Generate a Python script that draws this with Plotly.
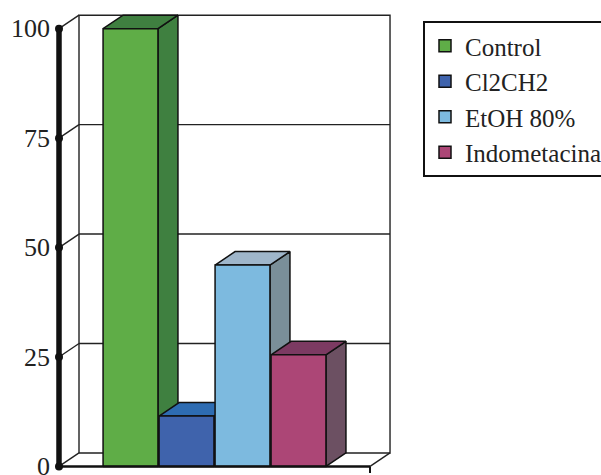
import plotly.graph_objects as go

# ---- data ----
categories = ["Control", "Cl2CH2", "EtOH 80%", "Indometacina"]
values = [100, 11.5, 46, 25.5]
tick_vals = [0, 25, 50, 75, 100]
tick_text = ["0", "25", "50", "75", "100"]

# ---- styles ----
front_colors = ["#5fad47", "#3f63ac", "#7dbadf", "#ac4676"]
top_colors = ["#3f7f40", "#2e6cb2", "#9fb6ca", "#7c3a62"]
side_colors = ["#3f8040", "#2c5a9a", "#7a8f99", "#6c5062"]

FONT = "Liberation Serif"
W, H = 601, 475
L, R, T, B = 52, 205, 9, 2
PX_PER_X = 56.0
plot_w = W - L - R
plot_h = H - T - B
X0 = -1.277                 # front axis position (x units)
XMIN = X0 - 7 / PX_PER_X
XMAX = XMIN + plot_w / PX_PER_X
Y0, Y1 = -1.5, 104.5
px_per_y = plot_h / (Y1 - Y0)
XR = 4.277                  # front floor right end
DX = 20 / PX_PER_X          # depth offset
DY = 13.5 / px_per_y
BW = 0.98                   # bar width
YMAX = tick_vals[-1]

fig = go.Figure()

def seg(xs, ys, width=1.4, color="#222"):
    fig.add_trace(go.Scatter(x=xs, y=ys, mode="lines", line=dict(color=color, width=width),
                             showlegend=False, hoverinfo="skip"))

# back wall outline
seg([X0 + DX, XR + DX, XR + DX, X0 + DX, X0 + DX],
    [DY, DY, YMAX + DY, YMAX + DY, DY])
# back wall gridlines and left wall diagonals
for v in tick_vals:
    if 0 < v < YMAX:
        seg([X0 + DX, XR + DX], [v + DY, v + DY])
    seg([X0, X0 + DX], [v, v + DY])
# floor right diagonal
seg([XR, XR + DX], [0, DY])

# bars (left to right so nearer faces occlude)
for i, (c, v) in enumerate(zip(categories, values)):
    xl = i - BW / 2
    xr = i + BW / 2
    line = dict(color="#111", width=1.5)
    fig.add_trace(go.Scatter(x=[xr, xr + DX, xr + DX, xr, xr], y=[0, DY, v + DY, v, 0],
                             mode="lines", fill="toself", fillcolor=side_colors[i], line=line,
                             showlegend=False, hoverinfo="skip"))
    fig.add_trace(go.Scatter(x=[xl, xr, xr + DX, xl + DX, xl], y=[v, v, v + DY, v + DY, v],
                             mode="lines", fill="toself", fillcolor=top_colors[i], line=line,
                             showlegend=False, hoverinfo="skip"))
    fig.add_trace(go.Scatter(x=[xl, xr, xr, xl, xl], y=[0, 0, v, v, 0],
                             mode="lines", fill="toself", fillcolor=front_colors[i], line=line,
                             showlegend=False, hoverinfo="skip", name=c))

# front floor line and end tick
seg([X0, XR], [0, 0], width=2.6, color="#111")
seg([XR, XR], [0, -2.2], width=2, color="#111")
# front value axis with dot ticks
seg([X0, X0], [-0.6, YMAX], width=5.5, color="#111")
fig.add_trace(go.Scatter(x=[X0] * len(tick_vals), y=tick_vals, mode="markers",
                         marker=dict(color="#111", size=8), showlegend=False,
                         hoverinfo="skip", cliponaxis=False))

# legend entries
for i, c in enumerate(categories):
    fig.add_trace(go.Bar(x=[None], y=[None], name=c, legendgroup=c,
                         marker=dict(color=front_colors[i], line=dict(color="#111", width=1.5))))

# tick labels placed on the value axis scale
annotations = [dict(x=0, y=v, xref="paper", yref="y", text=t, showarrow=False,
                    xanchor="right", yanchor="middle", xshift=0,
                    font=dict(family=FONT, size=26, color="#222"))
               for v, t in zip(tick_vals, tick_text)]

leg_x = (423 - L) / plot_w
leg_y = 1 - (21 - T) / plot_h

fig.update_layout(
    width=W, height=H,
    margin=dict(l=L, r=R, t=T, b=B, autoexpand=False),
    paper_bgcolor="white", plot_bgcolor="white",
    xaxis=dict(range=[XMIN, XMAX], visible=False, fixedrange=True),
    yaxis=dict(range=[Y0, Y1], visible=False, fixedrange=True),
    annotations=annotations,
    showlegend=True,
    legend=dict(x=leg_x, y=leg_y, xanchor="left", yanchor="top",
                bgcolor="white", bordercolor="#111", borderwidth=2,
                font=dict(family=FONT, size=25, color="#222"),
                tracegroupgap=7, traceorder="normal"),
)

fig.write_html("out.html")
